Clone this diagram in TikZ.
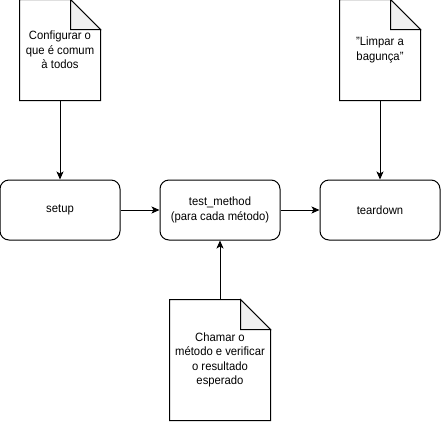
\documentclass[tikz,border=0pt]{standalone}
\usepackage{fontspec}
\setmainfont[FakeStretch=0.94]{Liberation Sans}
\usetikzlibrary{arrows.meta}
\begin{document}
\begin{tikzpicture}[x=1pt,y=-1pt,line width=1pt,
  every node/.style={font=\fontsize{12}{14.4}\selectfont, align=center, inner sep=0pt},
  stepbox/.style={draw, rounded corners=9pt, minimum width=120pt, minimum height=60pt},
  notebox/.style={minimum width=80pt, minimum height=100pt},
  arr/.style={-{Stealth[length=8pt,width=7pt,inset=2pt]}},
  fold/.style={fill=black!6}]
\useasboundingbox (0,0) rectangle (441,421);
% notes
\node[notebox] (n1) at (60,50) {Configurar o\\que é comum\\à todos};
\node[notebox] (n2) at (380,50) {"Limpar a\\bagunça"};
\node[notebox, minimum width=100pt, minimum height=120pt] (n3) at (220,360) {Chamar o\\método e verificar\\o resultado\\esperado};
\foreach \n in {n1,n2,n3}{
  \draw (\n.north west) -- ([xshift=-30pt]\n.north east) -- ([yshift=-30pt]\n.north east) -- (\n.south east) -- (\n.south west) -- cycle;
  \filldraw[fold] ([xshift=-30pt]\n.north east) -- ([xshift=-30pt,yshift=-30pt]\n.north east) -- ([yshift=-30pt]\n.north east) -- cycle;
}
% boxes
\node[stepbox] (setup) at (60,210) {setup};
\node[stepbox] (test) at (220,210) {test\_method\\(para cada método)};
\node[stepbox] (tear) at (380,210) {teardown};
% arrows
\draw[arr] (n1) -- (setup);
\draw[arr] (n2) -- (tear);
\draw[arr] (n3) -- (test);
\draw[arr] (setup) -- (test);
\draw[arr] (test) -- (tear);
\end{tikzpicture}
\end{document}
